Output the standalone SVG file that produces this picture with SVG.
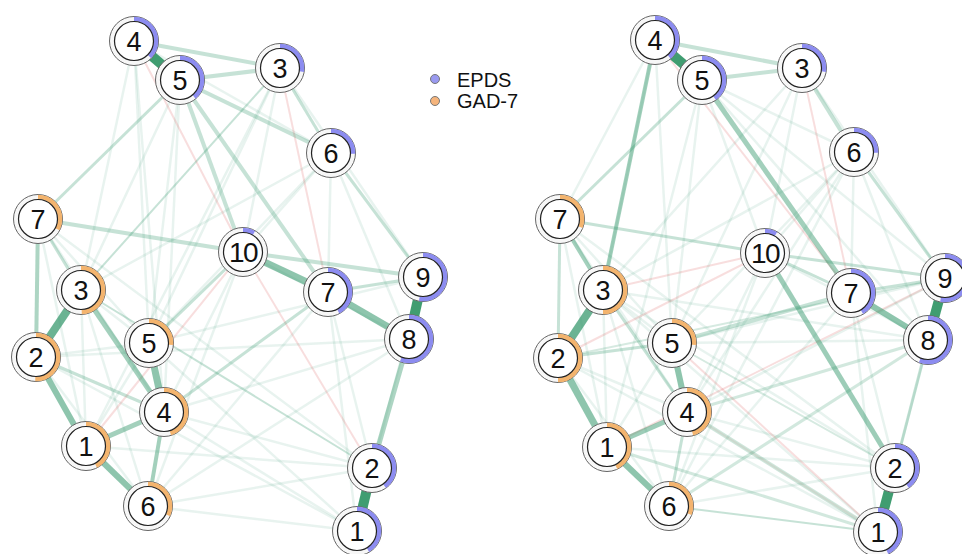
<svg xmlns="http://www.w3.org/2000/svg" width="962" height="554" viewBox="0 0 962 554">
<style>
  .bg{fill:#ffffff}
  .e{fill:none;stroke:#32966a;stroke-linecap:butt}
  .f{stroke-opacity:.11;stroke-width:2.5}
  .l{stroke-opacity:.28}
  .m{stroke-opacity:.55}
  .d{stroke:#3a9a6c;stroke-opacity:.97}
  .r{fill:none;stroke:#d84a4a;stroke-opacity:.18;stroke-width:2}
  .o{fill:#f7f7f7;stroke:#666;stroke-width:1}
  .i{fill:#ffffff;stroke:#222;stroke-width:1.2}
  .pe{fill:none;stroke:#8c8cf0;stroke-width:4.6;transform:rotate(-90deg)}
  .pg{fill:none;stroke:#f3b46e;stroke-width:4.6;transform:rotate(-90deg)}
  .t{font-family:"Liberation Sans",Arial,Helvetica,sans-serif;font-size:27px;fill:#111;text-anchor:middle}
  .t2{font-size:28px;letter-spacing:-1.5px}
  .lg{font-family:"Liberation Sans",Arial,Helvetica,sans-serif;font-size:20px;fill:#111}
</style>
<rect class="bg" x="0" y="0" width="962" height="554"/>

<!-- connectors: left network -->
<g id="edges-left">
  <g class="e f">
    <line x1="134" y1="41" x2="149" y2="343"/>
    <line x1="134" y1="41" x2="164" y2="412"/>
    <line x1="180" y1="80" x2="164" y2="412"/>
    <line x1="280" y1="68" x2="243" y2="252"/>
    <line x1="331" y1="153" x2="81" y2="290"/>
    <line x1="331" y1="153" x2="243" y2="252"/>
    <line x1="243" y1="252" x2="409" y2="339"/>
    <line x1="331" y1="153" x2="328" y2="292"/>
    <line x1="331" y1="153" x2="409" y2="339"/>
    <line x1="38" y1="219" x2="86" y2="446"/>
    <line x1="38" y1="219" x2="164" y2="412"/>
    <line x1="38" y1="219" x2="149" y2="343"/>
    <line x1="81" y1="290" x2="86" y2="446"/>
    <line x1="81" y1="290" x2="148" y2="506"/>
    <line x1="81" y1="290" x2="149" y2="343"/>
    <line x1="36" y1="357" x2="148" y2="506"/>
    <line x1="36" y1="357" x2="149" y2="343"/>
    <line x1="149" y1="343" x2="86" y2="446"/>
    <line x1="164" y1="412" x2="372" y2="468"/>
    <line x1="164" y1="412" x2="357" y2="531"/>
    <line x1="148" y1="506" x2="357" y2="531"/>
    <line x1="148" y1="506" x2="372" y2="468"/>
    <line x1="86" y1="446" x2="372" y2="468"/>
    <line x1="149" y1="343" x2="357" y2="531"/>
    <line x1="36" y1="357" x2="357" y2="531"/>
    <line x1="409" y1="339" x2="164" y2="412"/>
    <line x1="328" y1="292" x2="372" y2="468"/>
    <line x1="328" y1="292" x2="357" y2="531"/>
    <line x1="423" y1="277" x2="372" y2="468"/>
    <line x1="38" y1="219" x2="372" y2="468"/>
    <line x1="280" y1="68" x2="423" y2="277"/>
    <line x1="280" y1="68" x2="86" y2="446"/>
    <line x1="180" y1="80" x2="81" y2="290"/>
    <line x1="423" y1="277" x2="149" y2="343"/>
    <line x1="243" y1="252" x2="164" y2="412"/>
    <line x1="243" y1="252" x2="148" y2="506"/>
    <line x1="328" y1="292" x2="148" y2="506"/>
    <line x1="409" y1="339" x2="148" y2="506"/>
    <line x1="134" y1="41" x2="81" y2="290"/>
    <line x1="180" y1="80" x2="149" y2="343"/>
    <line x1="280" y1="68" x2="149" y2="343"/>
    <line x1="331" y1="153" x2="149" y2="343"/>
    <line x1="134" y1="41" x2="331" y2="153"/>
    <line x1="36" y1="357" x2="409" y2="339"/>
  </g>
  <g class="r">
    <line x1="134" y1="41" x2="243" y2="252"/>
    <line x1="243" y1="252" x2="372" y2="468"/>
    <line x1="86" y1="446" x2="243" y2="252"/>
    <line x1="280" y1="68" x2="328" y2="292"/>
  </g>
  <g class="e l">
    <line x1="134" y1="41" x2="280" y2="68" stroke-width="4"/>
    <line x1="180" y1="80" x2="280" y2="68" stroke-width="4"/>
    <line x1="180" y1="80" x2="331" y2="153" stroke-width="4"/>
    <line x1="180" y1="80" x2="243" y2="252" stroke-width="4"/>
    <line x1="180" y1="80" x2="328" y2="292" stroke-width="4"/>
    <line x1="38" y1="219" x2="243" y2="252" stroke-width="4"/>
    <line x1="243" y1="252" x2="423" y2="277" stroke-width="4"/>
    <line x1="280" y1="68" x2="331" y2="153" stroke-width="3"/>
    <line x1="149" y1="343" x2="243" y2="252" stroke-width="3"/>
    <line x1="164" y1="412" x2="328" y2="292" stroke-width="3"/>
    <line x1="36" y1="357" x2="164" y2="412" stroke-width="3"/>
    <line x1="180" y1="80" x2="38" y2="219" stroke-width="3"/>
    <line x1="280" y1="68" x2="81" y2="290" stroke-width="2"/>
    <line x1="328" y1="292" x2="423" y2="277" stroke-width="3"/>
    <line x1="331" y1="153" x2="423" y2="277" stroke-width="3"/>
    <line x1="81" y1="290" x2="372" y2="468" stroke-width="2"/>
    <line x1="38" y1="219" x2="81" y2="290" stroke-width="3"/>
  </g>
  <g class="e m">
    <line x1="81" y1="290" x2="36" y2="357" stroke-width="8" stroke-opacity=".72"/>
    <line x1="243" y1="252" x2="328" y2="292" stroke-width="7"/>
    <line x1="328" y1="292" x2="409" y2="339" stroke-width="7"/>
    <line x1="36" y1="357" x2="86" y2="446" stroke-width="6"/>
    <line x1="149" y1="343" x2="164" y2="412" stroke-width="7"/>
    <line x1="86" y1="446" x2="148" y2="506" stroke-width="6"/>
    <line x1="81" y1="290" x2="164" y2="412" stroke-width="5" stroke-opacity=".45"/>
    <line x1="164" y1="412" x2="148" y2="506" stroke-width="4" stroke-opacity=".45"/>
    <line x1="86" y1="446" x2="164" y2="412" stroke-width="5" stroke-opacity=".45"/>
    <line x1="38" y1="219" x2="36" y2="357" stroke-width="4" stroke-opacity=".4"/>
    <line x1="409" y1="339" x2="372" y2="468" stroke-width="5" stroke-opacity=".4"/>
  </g>
  <g class="e d">
    <line x1="134" y1="41" x2="180" y2="80" stroke-width="10"/>
    <line x1="423" y1="277" x2="409" y2="339" stroke-width="10"/>
    <line x1="372" y1="468" x2="357" y2="531" stroke-width="10"/>
  </g>
</g>

<!-- connectors: right network -->
<g id="edges-right">
  <g class="e f">
    <line x1="702" y1="80" x2="854" y2="152"/>
    <line x1="702" y1="80" x2="765" y2="253"/>
    <line x1="655" y1="40" x2="560" y2="219"/>
    <line x1="655" y1="40" x2="672" y2="343"/>
    <line x1="702" y1="80" x2="672" y2="343"/>
    <line x1="802" y1="68" x2="765" y2="253"/>
    <line x1="802" y1="68" x2="603" y2="290"/>
    <line x1="802" y1="68" x2="672" y2="343"/>
    <line x1="854" y1="152" x2="603" y2="290"/>
    <line x1="854" y1="152" x2="687" y2="412"/>
    <line x1="854" y1="152" x2="672" y2="343"/>
    <line x1="854" y1="152" x2="669" y2="506"/>
    <line x1="854" y1="152" x2="765" y2="253"/>
    <line x1="854" y1="152" x2="851" y2="293"/>
    <line x1="854" y1="152" x2="928" y2="340"/>
    <line x1="560" y1="219" x2="607" y2="447"/>
    <line x1="560" y1="219" x2="687" y2="412"/>
    <line x1="560" y1="219" x2="672" y2="343"/>
    <line x1="603" y1="290" x2="607" y2="447"/>
    <line x1="603" y1="290" x2="669" y2="506"/>
    <line x1="603" y1="290" x2="672" y2="343"/>
    <line x1="558" y1="358" x2="669" y2="506"/>
    <line x1="558" y1="358" x2="687" y2="412"/>
    <line x1="672" y1="343" x2="607" y2="447"/>
    <line x1="687" y1="412" x2="895" y2="468"/>
    <line x1="669" y1="506" x2="895" y2="468"/>
    <line x1="607" y1="447" x2="895" y2="468"/>
    <line x1="603" y1="290" x2="895" y2="468"/>
    <line x1="558" y1="358" x2="878" y2="532"/>
    <line x1="603" y1="290" x2="878" y2="532"/>
    <line x1="851" y1="293" x2="895" y2="468"/>
    <line x1="851" y1="293" x2="878" y2="532"/>
    <line x1="945" y1="278" x2="895" y2="468"/>
    <line x1="560" y1="219" x2="895" y2="468"/>
    <line x1="802" y1="68" x2="945" y2="278"/>
    <line x1="945" y1="278" x2="672" y2="343"/>
    <line x1="765" y1="253" x2="687" y2="412"/>
    <line x1="765" y1="253" x2="669" y2="506"/>
    <line x1="851" y1="293" x2="669" y2="506"/>
    <line x1="928" y1="340" x2="672" y2="343"/>
    <line x1="928" y1="340" x2="603" y2="290"/>
    <line x1="945" y1="278" x2="687" y2="412"/>
    <line x1="765" y1="253" x2="928" y2="340"/>
    <line x1="702" y1="80" x2="607" y2="447"/>
    <line x1="702" y1="80" x2="945" y2="278"/>
    <line x1="702" y1="80" x2="928" y2="340"/>
    <line x1="655" y1="40" x2="603" y2="290"/>
  </g>
  <g class="r">
    <line x1="655" y1="40" x2="851" y2="293"/>
    <line x1="802" y1="68" x2="851" y2="293"/>
    <line x1="603" y1="290" x2="765" y2="253"/>
    <line x1="672" y1="343" x2="878" y2="532"/>
    <line x1="558" y1="358" x2="765" y2="253"/>
    <line x1="607" y1="447" x2="945" y2="278"/>
    <line x1="687" y1="412" x2="878" y2="532" stroke-opacity=".1"/>
  </g>
  <g class="e l">
    <line x1="655" y1="40" x2="802" y2="68" stroke-width="4"/>
    <line x1="702" y1="80" x2="802" y2="68" stroke-width="4"/>
    <line x1="802" y1="68" x2="854" y2="152" stroke-width="4"/>
    <line x1="854" y1="152" x2="945" y2="278" stroke-width="3"/>
    <line x1="702" y1="80" x2="560" y2="219" stroke-width="3"/>
    <line x1="560" y1="219" x2="765" y2="253" stroke-width="3"/>
    <line x1="560" y1="219" x2="558" y2="358" stroke-width="3"/>
    <line x1="765" y1="253" x2="945" y2="278" stroke-width="3"/>
    <line x1="765" y1="253" x2="851" y2="293" stroke-width="3"/>
    <line x1="851" y1="293" x2="945" y2="278" stroke-width="3"/>
    <line x1="928" y1="340" x2="895" y2="468" stroke-width="3"/>
    <line x1="672" y1="343" x2="851" y2="293" stroke-width="4"/>
    <line x1="687" y1="412" x2="878" y2="532" stroke-width="4" stroke-opacity=".24"/>
    <line x1="669" y1="506" x2="928" y2="340" stroke-width="3" stroke-opacity=".22"/>
    <line x1="687" y1="412" x2="928" y2="340" stroke-width="3" stroke-opacity=".22"/>
    <line x1="603" y1="290" x2="687" y2="412" stroke-width="3"/>
    <line x1="687" y1="412" x2="669" y2="506" stroke-width="3"/>
    <line x1="669" y1="506" x2="878" y2="532" stroke-width="2"/>
    <line x1="607" y1="447" x2="878" y2="532" stroke-width="3" stroke-opacity=".22"/>
    <line x1="558" y1="358" x2="672" y2="343" stroke-width="3"/>
    <line x1="672" y1="343" x2="895" y2="468" stroke-width="2" stroke-opacity=".2"/>
    <line x1="558" y1="358" x2="945" y2="278" stroke-width="2" stroke-opacity=".2"/>
  </g>
  <g class="e m">
    <line x1="603" y1="290" x2="558" y2="358" stroke-width="8" stroke-opacity=".72"/>
    <line x1="558" y1="358" x2="607" y2="447" stroke-width="7"/>
    <line x1="607" y1="447" x2="669" y2="506" stroke-width="6"/>
    <line x1="672" y1="343" x2="687" y2="412" stroke-width="6"/>
    <line x1="851" y1="293" x2="928" y2="340" stroke-width="6"/>
    <line x1="765" y1="253" x2="895" y2="468" stroke-width="5" stroke-opacity=".48"/>
    <line x1="702" y1="80" x2="851" y2="293" stroke-width="5" stroke-opacity=".45"/>
    <line x1="655" y1="40" x2="603" y2="290" stroke-width="4" stroke-opacity=".45"/>
    <line x1="560" y1="219" x2="603" y2="290" stroke-width="4" stroke-opacity=".45"/>
    <line x1="607" y1="447" x2="687" y2="412" stroke-width="5" stroke-opacity=".48"/>
  </g>
  <g class="e d">
    <line x1="655" y1="40" x2="702" y2="80" stroke-width="10"/>
    <line x1="945" y1="278" x2="928" y2="340" stroke-width="10"/>
    <line x1="895" y1="468" x2="878" y2="532" stroke-width="10"/>
  </g>
</g>

<!-- legend -->
<g id="legend">
  <circle cx="435" cy="79" r="4.5" fill="#9a9af0" stroke="#777" stroke-width="1"/>
  <circle cx="435" cy="101" r="4.5" fill="#f5b47c" stroke="#777" stroke-width="1"/>
  <text class="lg" x="457" y="87">EPDS</text>
  <text class="lg" x="457" y="108">GAD-7</text>
</g>

<!-- nodes: left network -->
<g id="L-E4" transform="translate(134,41)"><circle class="o" r="24.5"/><circle class="pe" r="22" pathLength="360" stroke-dasharray="135 400"/><circle class="i" r="19.5"/><text class="t" y="10">4</text></g>
<g id="L-E5" transform="translate(180,80)"><circle class="o" r="24.5"/><circle class="pe" r="22" pathLength="360" stroke-dasharray="140 400"/><circle class="i" r="19.5"/><text class="t" y="10">5</text></g>
<g id="L-E3" transform="translate(280,68)"><circle class="o" r="24.5"/><circle class="pe" r="22" pathLength="360" stroke-dasharray="100 400"/><circle class="i" r="19.5"/><text class="t" y="10">3</text></g>
<g id="L-E6" transform="translate(331,153)"><circle class="o" r="24.5"/><circle class="pe" r="22" pathLength="360" stroke-dasharray="92 400"/><circle class="i" r="19.5"/><text class="t" y="10">6</text></g>
<g id="L-G7" transform="translate(38,219)"><circle class="o" r="24.5"/><circle class="pg" r="22" pathLength="360" stroke-dasharray="118 400"/><circle class="i" r="19.5"/><text class="t" y="10">7</text></g>
<g id="L-E10" transform="translate(243,252)"><circle class="o" r="24.5"/><circle class="pe" r="22" pathLength="360" stroke-dasharray="30 400"/><circle class="i" r="19.5"/><text class="t t2" y="10">10</text></g>
<g id="L-E9" transform="translate(423,277)"><circle class="o" r="24.5"/><circle class="pe" r="22" pathLength="360" stroke-dasharray="190 400"/><circle class="i" r="19.5"/><text class="t" y="10">9</text></g>
<g id="L-E7" transform="translate(328,292)"><circle class="o" r="24.5"/><circle class="pe" r="22" pathLength="360" stroke-dasharray="152 400"/><circle class="i" r="19.5"/><text class="t" y="10">7</text></g>
<g id="L-E8" transform="translate(409,339)"><circle class="o" r="24.5"/><circle class="pe" r="22" pathLength="360" stroke-dasharray="202 400"/><circle class="i" r="19.5"/><text class="t" y="10">8</text></g>
<g id="L-G3" transform="translate(81,290)"><circle class="o" r="24.5"/><circle class="pg" r="22" pathLength="360" stroke-dasharray="178 400"/><circle class="i" r="19.5"/><text class="t" y="10">3</text></g>
<g id="L-G5" transform="translate(149,343)"><circle class="o" r="24.5"/><circle class="pg" r="22" pathLength="360" stroke-dasharray="95 400"/><circle class="i" r="19.5"/><text class="t" y="10">5</text></g>
<g id="L-G2" transform="translate(36,357)"><circle class="o" r="24.5"/><circle class="pg" r="22" pathLength="360" stroke-dasharray="182 400"/><circle class="i" r="19.5"/><text class="t" y="10">2</text></g>
<g id="L-G4" transform="translate(164,412)"><circle class="o" r="24.5"/><circle class="pg" r="22" pathLength="360" stroke-dasharray="163 400"/><circle class="i" r="19.5"/><text class="t" y="10">4</text></g>
<g id="L-G1" transform="translate(86,446)"><circle class="o" r="24.5"/><circle class="pg" r="22" pathLength="360" stroke-dasharray="153 400"/><circle class="i" r="19.5"/><text class="t" y="10">1</text></g>
<g id="L-G6" transform="translate(148,506)"><circle class="o" r="24.5"/><circle class="pg" r="22" pathLength="360" stroke-dasharray="115 400"/><circle class="i" r="19.5"/><text class="t" y="10">6</text></g>
<g id="L-E2" transform="translate(372,468)"><circle class="o" r="24.5"/><circle class="pe" r="22" pathLength="360" stroke-dasharray="145 400"/><circle class="i" r="19.5"/><text class="t" y="10">2</text></g>
<g id="L-E1" transform="translate(357,531)"><circle class="o" r="24.5"/><circle class="pe" r="22" pathLength="360" stroke-dasharray="150 400"/><circle class="i" r="19.5"/><text class="t" y="10">1</text></g>

<!-- nodes: right network -->
<g id="R-E4" transform="translate(655,40)"><circle class="o" r="24.5"/><circle class="pe" r="22" pathLength="360" stroke-dasharray="140 400"/><circle class="i" r="19.5"/><text class="t" y="10">4</text></g>
<g id="R-E5" transform="translate(702,80)"><circle class="o" r="24.5"/><circle class="pe" r="22" pathLength="360" stroke-dasharray="145 400"/><circle class="i" r="19.5"/><text class="t" y="10">5</text></g>
<g id="R-E3" transform="translate(802,68)"><circle class="o" r="24.5"/><circle class="pe" r="22" pathLength="360" stroke-dasharray="100 400"/><circle class="i" r="19.5"/><text class="t" y="10">3</text></g>
<g id="R-E6" transform="translate(854,152)"><circle class="o" r="24.5"/><circle class="pe" r="22" pathLength="360" stroke-dasharray="92 400"/><circle class="i" r="19.5"/><text class="t" y="10">6</text></g>
<g id="R-G7" transform="translate(560,219)"><circle class="o" r="24.5"/><circle class="pg" r="22" pathLength="360" stroke-dasharray="112 400"/><circle class="i" r="19.5"/><text class="t" y="10">7</text></g>
<g id="R-E10" transform="translate(765,253)"><circle class="o" r="24.5"/><circle class="pe" r="22" pathLength="360" stroke-dasharray="30 400"/><circle class="i" r="19.5"/><text class="t t2" y="10">10</text></g>
<g id="R-E9" transform="translate(945,278)"><circle class="o" r="24.5"/><circle class="pe" r="22" pathLength="360" stroke-dasharray="192 400"/><circle class="i" r="19.5"/><text class="t" y="10">9</text></g>
<g id="R-E7" transform="translate(851,293)"><circle class="o" r="24.5"/><circle class="pe" r="22" pathLength="360" stroke-dasharray="150 400"/><circle class="i" r="19.5"/><text class="t" y="10">7</text></g>
<g id="R-E8" transform="translate(928,340)"><circle class="o" r="24.5"/><circle class="pe" r="22" pathLength="360" stroke-dasharray="202 400"/><circle class="i" r="19.5"/><text class="t" y="10">8</text></g>
<g id="R-G3" transform="translate(603,290)"><circle class="o" r="24.5"/><circle class="pg" r="22" pathLength="360" stroke-dasharray="180 400"/><circle class="i" r="19.5"/><text class="t" y="10">3</text></g>
<g id="R-G5" transform="translate(672,343)"><circle class="o" r="24.5"/><circle class="pg" r="22" pathLength="360" stroke-dasharray="95 400"/><circle class="i" r="19.5"/><text class="t" y="10">5</text></g>
<g id="R-G2" transform="translate(558,358)"><circle class="o" r="24.5"/><circle class="pg" r="22" pathLength="360" stroke-dasharray="180 400"/><circle class="i" r="19.5"/><text class="t" y="10">2</text></g>
<g id="R-G4" transform="translate(687,412)"><circle class="o" r="24.5"/><circle class="pg" r="22" pathLength="360" stroke-dasharray="165 400"/><circle class="i" r="19.5"/><text class="t" y="10">4</text></g>
<g id="R-G1" transform="translate(607,447)"><circle class="o" r="24.5"/><circle class="pg" r="22" pathLength="360" stroke-dasharray="155 400"/><circle class="i" r="19.5"/><text class="t" y="10">1</text></g>
<g id="R-G6" transform="translate(669,506)"><circle class="o" r="24.5"/><circle class="pg" r="22" pathLength="360" stroke-dasharray="112 400"/><circle class="i" r="19.5"/><text class="t" y="10">6</text></g>
<g id="R-E2" transform="translate(895,468)"><circle class="o" r="24.5"/><circle class="pe" r="22" pathLength="360" stroke-dasharray="145 400"/><circle class="i" r="19.5"/><text class="t" y="10">2</text></g>
<g id="R-E1" transform="translate(878,532)"><circle class="o" r="24.5"/><circle class="pe" r="22" pathLength="360" stroke-dasharray="155 400"/><circle class="i" r="19.5"/><text class="t" y="10">1</text></g>
</svg>
